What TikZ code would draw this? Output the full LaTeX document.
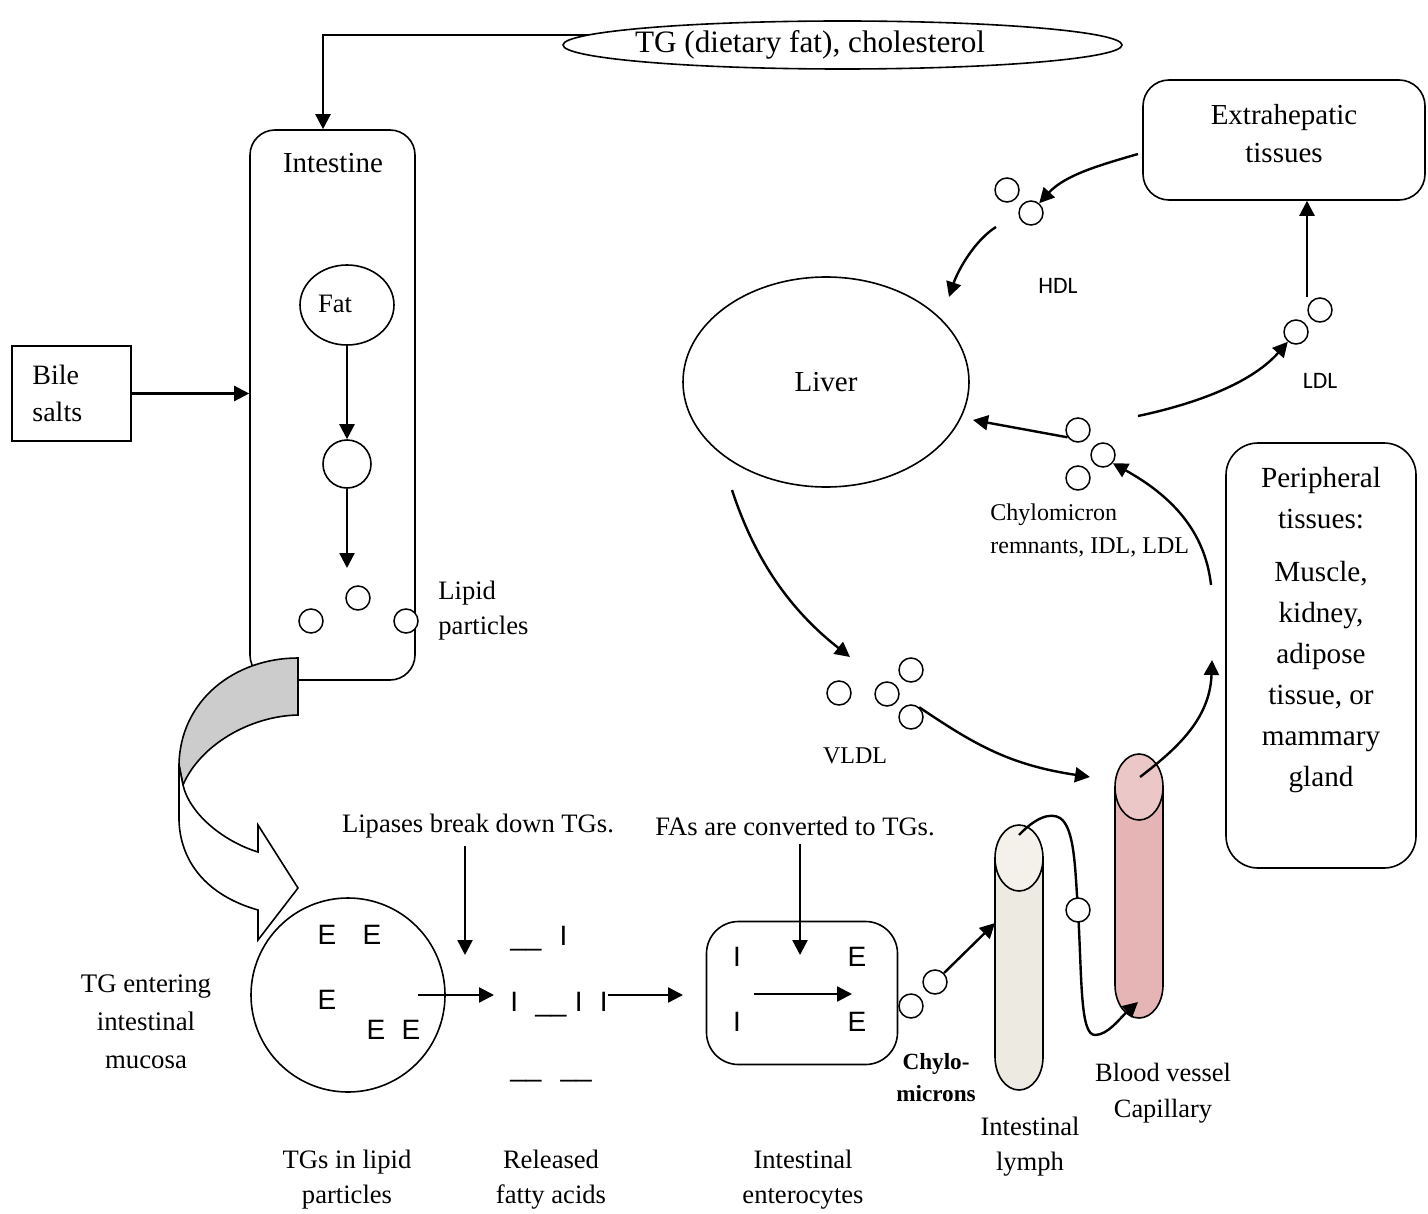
\documentclass[tikz,border=0pt]{standalone}
\usepackage{fontspec}
\setmainfont{Liberation Serif}
\newfontfamily\arialf{Liberation Sans}
\newfontfamily\calibrif{Carlito}
\usetikzlibrary{arrows.meta,shapes.geometric}
\pgfdeclarelayer{bg}
\pgfsetlayers{bg,main}
\newcommand{\myfs}[2]{\fontsize{#1}{#2}\selectfont}
\definecolor{lymbody}{HTML}{ECEAE1}
\definecolor{lymtop}{HTML}{F3F1EA}
\definecolor{capbody}{HTML}{E5B5B5}
\definecolor{captop}{HTML}{ECC7C7}
\begin{document}
\begin{tikzpicture}[x=0.5pt,y=-0.5pt,
  box/.style={draw, line width=0.8pt, inner sep=0pt},
  part/.style={circle, draw, fill=white, line width=0.75pt, minimum size=12pt, inner sep=0pt},
  arr/.style={line width=1.2pt, -{Triangle[length=7.5pt,width=7.5pt]}},
  tL/.style={font=\myfs{14.5}{19}, inner sep=0pt, align=center},
  tM/.style={font=\myfs{13.3}{17.5}, inner sep=0pt, align=center},
  tS/.style={font=\myfs{12}{16.5}, inner sep=0pt},
  glyph/.style={font=\arialf\myfs{14}{16}, inner sep=0pt},
  sanslbl/.style={font=\calibrif\myfs{11.8}{14}, inner sep=0pt}]
\useasboundingbox (0,0) rectangle (1428,1214);

% ---- top: dietary fat ----
\node[ellipse, draw, line width=0.8pt, fill=white, minimum width=279.5pt, minimum height=24pt, inner sep=0pt] (tg) at (842.5,45) {};
\node[font=\myfs{15.6}{18}, inner sep=0pt] (tgL) at (810,45) {TG (dietary fat), cholesterol};

% ---- intestine ----
\node[box, rounded corners=12.5pt, minimum width=82.5pt, minimum height=275pt] (intestine) at (332.5,405) {};
\node[tL] (intL) at (333,163) {Intestine};
\coordinate (tgturn) at (323,35);
\begin{pgfonlayer}{bg}
\draw[arr] ([xshift=30pt]tg.west |- tgturn) -- (tgturn) -- (tgturn |- intestine.north);
\end{pgfonlayer}

\node[ellipse, draw, line width=0.8pt, minimum width=47pt, minimum height=40pt, inner sep=0pt] (fat) at (347,305) {};
\node[tM] (fatL) at (335,304) {Fat};
\node[circle, draw, line width=0.8pt, minimum size=24pt, inner sep=0pt] (bigc) at (347,464) {};
\draw[arr] (fat.south) -- (bigc.north);
\coordinate (lipT) at (347,568);
\draw[arr] (bigc.south) -- (lipT);
\node[part] (lp1) at (311,621) {};
\node[part] (lp2) at (358,598) {};
\node[part] (lp3) at (406,621) {};
\node[tM, anchor=west, align=left] (lpL) at (438,610.5) {Lipid\\particles};

% ---- bile salts ----
\node[box, minimum width=59.5pt, minimum height=47.5pt] (bile) at (71.5,393.5) {};
\node[font=\myfs{14}{18.5}, inner sep=0pt, anchor=west, align=left] (bileL) at (32,393.5) {Bile\\salts};
\draw[arr] (bile.east) -- (bile.east -| intestine.west);

% ---- curved block arrow ----
\draw[line width=0.8pt, fill=gray!40] (298,658) .. controls (235,658) and (180,700) .. (179,765) -- (183,785) .. controls (200,745) and (250,716) .. (298,715) -- cycle;
\draw[line width=0.8pt, fill=white] (179,765) -- (179,820) .. controls (180,860) and (205,895) .. (258,910) -- (258,940) -- (298,888) -- (258,825) -- (258,852) .. controls (225,842) and (190,815) .. (183,785) -- cycle;

% ---- TGs in lipid particles ----
\node[circle, draw, line width=0.8pt, minimum size=97pt, inner sep=0pt] (tgc) at (348,995) {};
\node[glyph] (e1) at (327,935) {E};
\node[glyph] (e2) at (372,935) {E};
\node[glyph] (e3) at (327,1000) {E};
\node[glyph] (e4) at (376,1030) {E};
\node[glyph] (e5) at (411,1030) {E};
\coordinate (eaS) at (418,995);
\coordinate (eaE) at (494,995);
\draw[arr] (eaS) -- (eaE);

\node[tM] (lip) at (478,826) {Lipases break down TGs.};
\coordinate (lipE) at (465,955);
\draw[arr] ([yshift=-4pt]lip.south -| lipE) -- (lipE);

% ---- released fatty acids ----
\node[glyph, anchor=base west] (fa1) at (510,945) {\_\_\hspace{9pt}I};
\node[glyph, anchor=base west] (fa2) at (510,1011) {I\hspace{8.6pt}\_\_\hspace{4.2pt}I\hspace{8.6pt}I};
\node[glyph, anchor=base west] (fa3) at (510,1076) {\_\_\hspace{9.5pt}\_\_};
\coordinate (faT) at (683,995);
\draw[arr] (fa2.east |- faT) -- (faT);

% ---- enterocytes ----
\node[tM] (fas) at (795,826) {FAs are converted to TGs.};
\node[box, rounded corners=16pt, minimum width=95.5pt, minimum height=71.5pt] (ent) at (802,993) {};
\coordinate (fasE) at (800,955);
\draw[arr] ([yshift=-4pt]fas.south -| fasE) -- (fasE);
\node[glyph] (i1) at (737,957) {I};
\node[glyph] (x1) at (857,957) {E};
\node[glyph] (i2) at (737,1022) {I};
\node[glyph] (x2) at (857,1022) {E};
\coordinate (enA) at (754,994);
\coordinate (enB) at (852,994);
\draw[arr] (enA) -- (enB);

% ---- chylomicrons ----
\node[part] (ch1) at (911,1006) {};
\node[part] (ch2) at (935,982) {};
\node[font=\bfseries\myfs{11.6}{16}, inner sep=0pt, align=center] (chyL) at (936,1078) {Chylo-\\microns};

% ---- lymph and capillary ----
\draw[line width=0.8pt, fill=lymbody] (995,858) -- (995,1057) arc[start angle=180, end angle=0, x radius=24, y radius=33] -- (1043,858);
\draw[line width=0.8pt, fill=lymtop] (1019,858) ellipse[x radius=24, y radius=33];
\draw[line width=0.8pt, fill=capbody] (1115,787) -- (1115,985) arc[start angle=180, end angle=0, x radius=24, y radius=33] -- (1163,787);
\draw[line width=0.8pt, fill=captop] (1139,787) ellipse[x radius=24, y radius=33];
\coordinate (lymW) at (995,923);
\coordinate (lymC) at (1019,835);
\coordinate (capIn) at (1138,1002);
\coordinate (capOut) at (1140,777);
\draw[arr] (ch2.45) -- (lymW);
\draw[arr] (lymC) .. controls (1035,818) and (1050,812) .. (1060,818) .. controls (1075,828) and (1075,870) .. (1078,910) .. controls (1082,980) and (1080,1035) .. (1095,1035) .. controls (1108,1035) and (1120,1018) .. (capIn);
\node[part] (lyp) at (1078,910) {};
\node[tM] (lymL) at (1030,1147) {Intestinal\\lymph};
\node[font=\myfs{13.2}{18}, inner sep=0pt, align=center] (bvL) at (1163,1093) {Blood vessel\\Capillary};

% ---- bottom labels ----
\node[font=\myfs{13.4}{19}, inner sep=0pt, align=center] (tgeL) at (146,1022) {TG entering\\intestinal\\mucosa};
\node[tM] (b1) at (347,1180) {TGs in lipid\\particles};
\node[tM] (b2) at (551,1180) {Released\\fatty acids};
\node[tM] (b3) at (803,1180) {Intestinal\\enterocytes};

% ---- liver ----
\node[ellipse, draw, line width=0.8pt, minimum width=143pt, minimum height=105pt, inner sep=0pt, font=\myfs{14.5}{18}] (liver) at (826,382) {Liver};

% ---- VLDL ----
\node[part] (v1) at (839,693) {};
\node[part] (v2) at (887,694) {};
\node[part] (v3) at (911,670) {};
\node[part] (v4) at (911,717) {};
\node[tS] (vL) at (855,756) {VLDL};
\coordinate (lvS) at (732,490);
\coordinate (vlT) at (850,657);
\draw[arr] (lvS) .. controls (755,560) and (790,610) .. (vlT);
\coordinate (vEnd) at (1090,777);
\draw[arr] (v4.50) .. controls (975,745) and (1010,765) .. (vEnd);

% ---- peripheral tissues ----
\node[box, rounded corners=16pt, minimum width=95pt, minimum height=212.5pt] (per) at (1321,655.5) {};
\node[font=\myfs{14.6}{20.5}, inner sep=0pt, align=center] (perL) at (1321,630) {Peripheral\\tissues:\\[6pt]Muscle,\\kidney,\\adipose\\tissue, or\\mammary\\gland};
\coordinate (perIn) at (1212,660);
\draw[arr] (capOut) .. controls (1175,750) and (1210,720) .. (perIn);

% ---- remnants ----
\node[part] (r1) at (1078,430) {};
\node[part] (r2) at (1103,455) {};
\node[part] (r3) at (1078,478) {};
\node[tS, anchor=west, align=left] (remL) at (990,531) {Chylomicron\\remnants, IDL, LDL};
\coordinate (pS) at (1211,585);
\draw[arr] (pS) .. controls (1205,530) and (1170,495) .. (r2.-40);
\coordinate (lvR) at (973,420);
\draw[arr] (r1.215) -- (lvR);

% ---- LDL ----
\node[part] (l1) at (1296,332) {};
\node[part] (l2) at (1320,310) {};
\node[sanslbl] (ldlL) at (1320,381) {LDL};
\coordinate (rmS) at (1138,416);
\draw[arr] (rmS) .. controls (1190,405) and (1250,385) .. (l1.230);

% ---- extrahepatic ----
\node[box, rounded corners=13pt, minimum width=141pt, minimum height=60pt] (extra) at (1284,140) {};
\node[tL] (extraL) at (1284,134) {Extrahepatic\\tissues};
\coordinate (ldS) at (1307,297);
\draw[arr] (ldS) -- (ldS |- extra.south);

% ---- HDL ----
\node[part] (h1) at (1007,190) {};
\node[part] (h2) at (1031,213) {};
\node[sanslbl] (hdlL) at (1058,286) {HDL};
\coordinate (exS) at (1138,154);
\draw[arr] (exS) .. controls (1100,165) and (1065,175) .. (h2.50);
\coordinate (hdS) at (996,227);
\coordinate (lvT) at (949,297);
\draw[arr] (hdS) .. controls (975,240) and (958,270) .. (lvT);
\end{tikzpicture}
\end{document}
